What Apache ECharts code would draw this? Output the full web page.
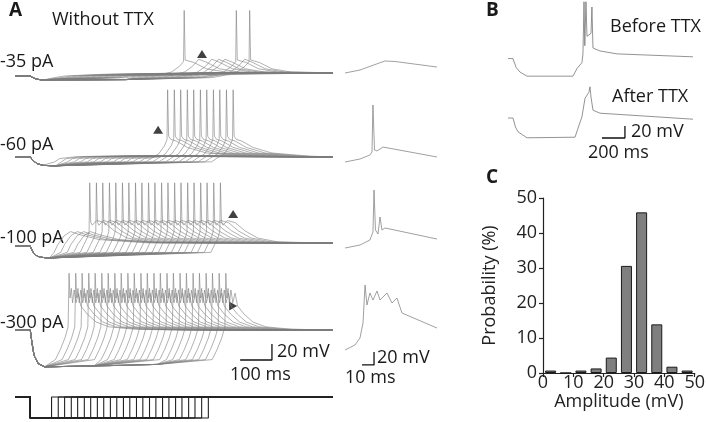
<!DOCTYPE html>
<html><head><meta charset="utf-8">
<script src="https://cdn.jsdelivr.net/npm/echarts@6/dist/echarts.min.js"></script>
<style>html,body{margin:0;padding:0;background:#fff}#c{width:708px;height:422px}</style>
</head><body><div id="c"></div>
<script>
// ================= Panel C : amplitude histogram =================
const ampBinStarts = [0, 5, 10, 15, 20, 25, 30, 35, 40, 45];
const probability  = [0.7, 0, 0.7, 1.3, 4.4, 30.6, 45.9, 13.9, 1.8, 0.7];
const ampBinWidth = 5;

// ================= Panel A : rebound families =================
const familyLabels = ['-35 pA', '-60 pA', '-100 pA', '-300 pA'];
const stepOnset = 48;            // ms
const sweepEnd = 1000;           // ms
const restV = -60;               // mV
const stimAmp = -300;            // pA (protocol drawing)
const stepEnds = [115,136,156,177,197,218,238,259,279,300,320,341,361,382,402,423,443,464,484,505,525,546,566,587,608];

// -35 pA
const hyper35 = [[0,-60],[8,-62],[20,-64],[40,-65],[300,-64.5],[560,-63.5]];
const reb35 = [[10,-62],[40,-60],[150,-58],[300,-57],[450,-56]];
const reb35Hump = [[10,-62],[40,-60],[90,-55],[115,-48],[135,-39],[160,-43],[200,-51],[260,-55],[400,-56]];
const reb35Spike = [[10,-62],[40,-60],[90,-55],[115,-48],[128,-42],[130,22],[133,-40],[160,-43],[200,-51],[260,-55],[400,-56]];
const hump35Traces = [16, 18, 19, 20, 23];
const spike35Traces = [14, 22, 24];
const end35 = -56;
// -60 pA
const hyper60 = [[0,-60],[8,-64],[20,-68],[40,-70.5],[80,-71],[560,-70.5]];
const reb60 = [[10,-66],[25,-62],[80,-59.5],[250,-58.5],[500,-59.5]];
const reb60Spike = [[10,-66],[25,-62],[50,-56],[68,-46],[76,-38],[78,24],[81,-34],[88,-38],[105,-40],[140,-48],[200,-55],[320,-59]];
const spike60Traces = [14,15,16,17,18,19,20,21,22,23,24];
const end60 = -60;
// -100 pA
const hyper100 = [[0,-60],[6,-66],[15,-71],[30,-74],[60,-75],[560,-74]];
const reb100 = [[8,-68],[20,-58],[40,-47],[60,-42],[90,-46],[150,-52],[300,-56]];
const reb100Spike = [[8,-68],[20,-58],[30,-50],[36,-42],[38,19],[41,-30],[46,-34],[60,-28],[85,-31],[115,-41],[155,-50],[220,-55],[350,-56]];
const spike100Traces = [4,5,6,7,8,9,10,11,12,13,14,15,16,17,18,19,20,21,22,23,24];
const end100 = -56;
// -300 pA
const hyper300 = [[0,-60],[5,-75],[12,-92],[25,-102],[45,-106],[200,-105],[400,-103],[560,-101]];
const reb300 = [[12,-97],[28,-84],[42,-70],[52,-56],[55,11],[58,-20],[62,-8],[66,-26],[71,-10],[77,-26],[84,-14],[92,-30],[112,-40],[140,-50],[180,-56],[260,-59],[400,-60]];
const spike300Traces = [0,1,2,3,4,5,6,7,8,9,10,11,12,13,14,15,16,17,18,19,20,21,22,23,24];
const end300 = -60;

// arrowheads [ms, mV] per family
const arrowPoints = [[588,-32.5],[450,-26],[686,-20],[686,-30]];

// right-hand insets (expanded first rebound) [ms, mV]
const inset35  = [[0,-60],[12.5,-55.4],[25,-47],[33.3,-41.5],[41.7,-42.3],[76.7,-50.8]];
const inset60  = [[0,-60],[12.5,-55.4],[20.8,-49.2],[22.5,-44.6],[23.3,27.7],[24.6,-41.5],[26.7,-43],[31.7,-37],[76.7,-52.3]];
const inset100 = [[0,-60],[12.5,-55.4],[20.8,-47.7],[23.3,-35.4],[24.2,29.2],[25.4,-32.3],[27.5,-38.5],[29.2,-12.3],[30.8,-32.3],[33.3,-29.2],[76.7,-46.2]];
const inset300 = [[0,-60],[8.3,-52.3],[12.5,-41.5],[15,-18.5],[16.7,40],[18.3,9.2],[20.8,27.7],[23.3,16.9],[26.7,30.8],[29.2,16.9],[35,27.7],[39.2,12.3],[43.3,20],[47.5,-3.1],[76.7,-26.2]];

// ================= Panel B =================
const beforeTTX = [[0,-60],[43,-60],[70,-75],[104,-83],[165,-90],[565,-90],[600,-77],[643,-67],[652,-52],[661,37],[668,-38],[678,37],[687,-22],[722,-17],[730,28],[739,-42],[800,-47],[948,-52],[1609,-57]];
const afterTTX  = [[0,-60],[43,-60],[65,-75],[87,-83],[165,-93],[583,-92],[609,-77],[643,-58],[670,-27],[704,-17],[713,-8],[722,-25],[739,-47],[800,-52],[1609,-62]];

// scale bars: [t0, v0, dt, dv]
const scaleA = [708, -97.5, 100, 20];
const scaleInset = [14.2, -83, 10, 20];
const scaleB = [817, -93.3, 200, 20];

// ================= build =================
function buildTrace(hyper, reb, te, endV) {
  const pts = [[0, restV]];
  hyper.forEach(([t, v]) => { if (stepOnset + t < te) pts.push([stepOnset + t, v]); });
  reb.forEach(([t, v]) => { if (te + t <= sweepEnd) pts.push([te + t, v]); });
  if (pts[pts.length - 1][0] < sweepEnd) pts.push([sweepEnd, endV]);
  return pts;
}
function scaleBar(s) { return [[s[0], s[1]], [s[0] + s[2], s[1]], [s[0] + s[2], s[1] + s[3]]]; }

const families = [
  {base: 76,  hyper: hyper35,  plain: reb35,  spike: reb35Spike,  spikeIdx: spike35Traces, alt: reb35Hump, altIdx: hump35Traces, endV: end35},
  {base: 157, hyper: hyper60,  plain: reb60,  spike: reb60Spike,  spikeIdx: spike60Traces, alt: null, altIdx: [], endV: end60},
  {base: 246, hyper: hyper100, plain: reb100, spike: reb100Spike, spikeIdx: spike100Traces, alt: null, altIdx: [], endV: end100},
  {base: 330, hyper: hyper300, plain: reb300, spike: reb300,      spikeIdx: spike300Traces, alt: null, altIdx: [], endV: end300}
];
const insets = [{d: inset35, base: 73}, {d: inset60, base: 162}, {d: inset100, base: 248}, {d: inset300, base: 350}];

const grids = [], xAxes = [], yAxes = [], series = [];
function addGrid(g, xr, yr) {
  grids.push(Object.assign({containLabel: false}, g));
  const i = grids.length - 1;
  xAxes.push({gridIndex: i, type: 'value', min: xr[0], max: xr[1], show: false});
  yAxes.push({gridIndex: i, type: 'value', min: yr[0], max: yr[1], show: false});
  return i;
}
const lineBase = {type: 'line', showSymbol: false, symbol: 'none', silent: true, animation: false, clip: false};
const traceColor = '#7c7c7c';

const pxPerMvA = 0.8;
families.forEach((f, k) => {
  const yr = [-120, 25];
  const gi = addGrid({left: 15, width: 318, top: f.base - (yr[1] - restV) * pxPerMvA, height: (yr[1] - yr[0]) * pxPerMvA}, [0, sweepEnd], yr);
  stepEnds.forEach((te, i) => {
    let reb = f.plain;
    if (f.altIdx.includes(i)) reb = f.alt;
    if (f.spikeIdx.includes(i)) reb = f.spike;
    series.push(Object.assign({}, lineBase, {xAxisIndex: gi, yAxisIndex: gi, data: buildTrace(f.hyper, reb, te, f.endV),
      lineStyle: {color: traceColor, width: 0.6}}));
  });
  series.push({type: 'scatter', xAxisIndex: gi, yAxisIndex: gi, silent: true, animation: false, data: [arrowPoints[k]],
    symbol: 'triangle', symbolSize: k === 3 ? [9, 8] : [10, 8], symbolRotate: k === 3 ? -90 : 0, itemStyle: {color: '#111'}});
  if (k === 3) {
    series.push(Object.assign({}, lineBase, {xAxisIndex: gi, yAxisIndex: gi, data: scaleBar(scaleA), lineStyle: {color: '#111', width: 1.3}}));
  }
});

// protocol
const gp = addGrid({left: 15, width: 318, top: 397, height: 21}, [0, sweepEnd], [stimAmp, 0]);
stepEnds.forEach(te => {
  series.push(Object.assign({}, lineBase, {xAxisIndex: gp, yAxisIndex: gp,
    data: [[0, 0], [stepOnset, 0], [stepOnset, stimAmp], [te, stimAmp], [te, 0], [sweepEnd, 0]],
    lineStyle: {color: '#222', width: 1.1}}));
});

// insets
insets.forEach((ins, k) => {
  const yr = [-90, 50], ppm = 0.65;
  const gi = addGrid({left: 345, width: 92, top: ins.base - (yr[1] - restV) * ppm, height: (yr[1] - yr[0]) * ppm}, [0, 76.7], yr);
  series.push(Object.assign({}, lineBase, {xAxisIndex: gi, yAxisIndex: gi, data: ins.d, lineStyle: {color: '#888', width: 0.8}}));
  if (k === 3) series.push(Object.assign({}, lineBase, {xAxisIndex: gi, yAxisIndex: gi, data: scaleBar(scaleInset), lineStyle: {color: '#111', width: 1.3}}));
});

// panel B
[[beforeTTX, 58], [afterTTX, 118]].forEach(([d, base], k) => {
  const yr = [-100, 40], ppm = 0.6;
  const gi = addGrid({left: 508, width: 185, top: base - (yr[1] - restV) * ppm, height: (yr[1] - yr[0]) * ppm}, [0, 1609], yr);
  series.push(Object.assign({}, lineBase, {xAxisIndex: gi, yAxisIndex: gi, data: d, lineStyle: {color: '#777', width: 0.8}}));
  if (k === 1) series.push(Object.assign({}, lineBase, {xAxisIndex: gi, yAxisIndex: gi, data: scaleBar(scaleB), lineStyle: {color: '#111', width: 1.3}}));
});

// panel C
grids.push({left: 543, right: 12, top: 198, bottom: 49, containLabel: false});
const gc = grids.length - 1;
const axFont = {fontFamily: 'Open Sans', fontSize: 18, color: '#222'};
xAxes.push({gridIndex: gc, type: 'value', min: 0, max: 50, interval: 10,
  axisLine: {show: true, lineStyle: {color: '#222', width: 1.2}},
  axisTick: {show: true, inside: false, length: 4, lineStyle: {color: '#222', width: 1.2}},
  axisLabel: Object.assign({margin: 1}, axFont), splitLine: {show: false},
  name: 'Amplitude (mV)', nameLocation: 'middle', nameGap: 20, nameTextStyle: axFont});
yAxes.push({gridIndex: gc, type: 'value', min: 0, max: 50, interval: 10,
  axisLine: {show: true, lineStyle: {color: '#222', width: 1.2}},
  axisTick: {show: true, inside: false, length: 4, lineStyle: {color: '#222', width: 1.2}},
  axisLabel: Object.assign({margin: 6}, axFont), splitLine: {show: false},
  name: 'Probability (%)', nameLocation: 'middle', nameGap: 44, nameTextStyle: axFont});
series.push({type: 'bar', xAxisIndex: gc, yAxisIndex: gc, silent: true, animation: false, barWidth: 11,
  data: ampBinStarts.map((s, i) => [s + ampBinWidth / 2, probability[i]]),
  itemStyle: {color: '#7f7f7f', borderColor: '#1a1a1a', borderWidth: 1}});

// texts
const FF = 'Open Sans';
function txt(text, x, y, size, bold) {
  return {type: 'text', x: x, y: y, silent: true,
    style: {text: text, font: (bold ? 'bold ' : '') + size + 'px "' + FF + '"', fill: '#1a1a1a', verticalAlign: 'middle', textVerticalAlign: 'middle'}};
}
const graphics = [
  txt('A', 9, 11, 19, true),
  txt('Without TTX', 52, 20, 18),
  txt(familyLabels[0], 0, 62, 18),
  txt(familyLabels[1], 0, 145, 18),
  txt(familyLabels[2], 0, 238, 18),
  txt(familyLabels[3], 0, 323, 18),
  txt('20 mV', 277, 352, 18),
  txt('100 ms', 230, 375, 18),
  txt('20 mV', 377, 358, 18),
  txt('10 ms', 345, 378, 18),
  txt('B', 486, 11, 19, true),
  txt('Before TTX', 610, 27, 18),
  txt('After TTX', 612, 97, 18),
  txt('20 mV', 631, 132, 18),
  txt('200 ms', 588, 153, 18),
  txt('C', 486, 178, 19, true)
];

const chart = echarts.init(document.getElementById('c'), null, {renderer: 'canvas'});
chart.setOption({animation: false, backgroundColor: '#fff', grid: grids, xAxis: xAxes, yAxis: yAxes, series: series, graphic: graphics});
</script></body></html>
